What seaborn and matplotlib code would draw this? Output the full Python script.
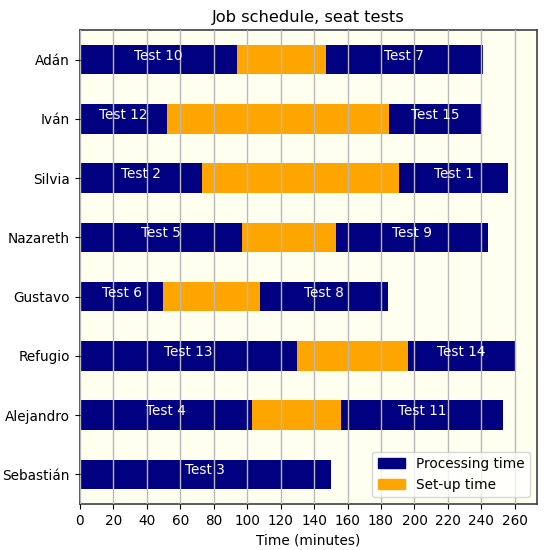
import numpy as np
import pandas as pd
import seaborn as sns
import matplotlib
matplotlib.use("Agg")
import matplotlib.pyplot as plt
from matplotlib.patches import Patch

# schedule per worker: first test, set-up, second test (minutes)
workers = ["Adán", "Iván", "Silvia", "Nazareth", "Gustavo",
           "Refugio", "Alejandro", "Sebastián"]
first_test = ["Test 10", "Test 12", "Test 2", "Test 5", "Test 6",
              "Test 13", "Test 4", "Test 3"]
first_time = [94, 52, 73, 97, 50, 130, 103, 150]
setup_time = [53, 133, 118, 56, 58, 66, 53, 0]
second_test = ["Test 7", "Test 15", "Test 1", "Test 9", "Test 8",
               "Test 14", "Test 11", ""]
second_time = [94, 55, 65, 91, 76, 64, 97, 0]

plt.rcParams["font.size"] = 9.8

df = pd.DataFrame({
    "worker": workers,
    "first": first_time,
    "setup": setup_time,
    "second": second_time,
})
df["end1"] = df["first"]
df["end2"] = df["end1"] + df["setup"]
df["end3"] = df["end2"] + df["second"]

fig = plt.figure(figsize=(5.44, 5.5), dpi=100)
ax = fig.add_axes([0.1465, 0.0836, 0.840, 0.862])
ax.set_facecolor("ivory")

# stacked look: draw cumulative ends from longest to shortest
sns.barplot(data=df, x="end3", y="worker", orient="h", color="navy",
            saturation=1, width=0.5, ax=ax)
sns.barplot(data=df, x="end2", y="worker", orient="h", color="orange",
            saturation=1, width=0.5, ax=ax)
sns.barplot(data=df, x="end1", y="worker", orient="h", color="navy",
            saturation=1, width=0.5, ax=ax)

for i in range(len(workers)):
    ax.text(df["end1"][i] / 2, i, first_test[i], color="white",
            ha="center", va="baseline")
    if second_test[i]:
        ax.text((df["end2"][i] + df["end3"][i]) / 2, i, second_test[i],
                color="white", ha="center", va="baseline")

ax.set_xlim(0, 273)
ax.set_ylim(7.5, -0.5)
ax.set_xticks(np.arange(0, 261, 20))
ax.grid(axis="x", color="0.72", linewidth=1)
ax.set_axisbelow(False)
ax.set_xlabel("Time (minutes)")
ax.set_ylabel("")
ax.set_title("Job schedule, seat tests", fontsize=11.7)
for sp in ax.spines.values():
    sp.set_color("0.25")
    sp.set_linewidth(1.2)

handles = [Patch(color="navy", label="Processing time"),
           Patch(color="orange", label="Set-up time")]
ax.legend(handles=handles, loc="lower right")

fig.savefig("out.png", dpi=100)
